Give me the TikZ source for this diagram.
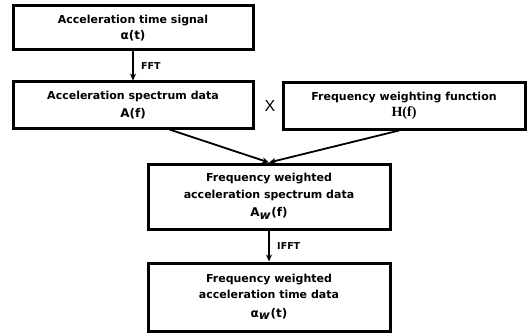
\documentclass[tikz,border=0pt]{standalone}
\usepackage{fontspec}
\setmainfont{DejaVu Sans}
\newfontfamily\serifb{Liberation Serif}
\newfontfamily\arial{Liberation Sans}
\usetikzlibrary{arrows.meta,calc}
\newcommand{\symline}{\fontsize{12}{14}\selectfont}
\begin{document}
\begin{tikzpicture}[x=1pt,y=1pt,
  box/.style={draw=black,line width=3pt,rectangle,align=center,inner sep=0pt,
    font=\bfseries\fontsize{11}{16.5}\selectfont},
  conn/.style={line width=1.8pt,-{Stealth[length=7pt,width=6pt]}},
  lbl/.style={font=\bfseries\fontsize{9.5}{12}\selectfont,anchor=west}]
\useasboundingbox (0,0) rectangle (532,-334);
\node[box,minimum width=240,minimum height=44] (b1) at (133,-28) {Acceleration time signal\\ {\symline α(t)}};
\node[box,minimum width=240,minimum height=46] (b2) at (133,-105) {Acceleration spectrum data\\[1pt] {\symline A(f)}};
\node[box,minimum width=242,minimum height=46] (b3) at (404,-106) {Frequency weighting function\\ {\serifb\bfseries\fontsize{14}{16}\selectfont H(f)}};
\node[box,minimum width=242,minimum height=65] (b4) at (269,-196.5) {Frequency weighted\\ acceleration spectrum data\\[2pt] {\symline A$_{\textbf{\textit{w}}}$(f)}};
\node[box,minimum width=242,minimum height=68] (b5) at (269,-297) {Frequency weighted\\ acceleration time data\\[2pt] {\symline α$_{\textbf{\textit{w}}}$(t)}};
\node[font=\arial\fontsize{16}{18}\selectfont] (x) at (270,-106) {X};
\draw[conn] (b1.south) -- (b2.north) node[midway,lbl,xshift=4pt] (fft) {FFT};
\draw[conn] (b4.south) -- (b5.north) node[midway,lbl,xshift=4pt] (ifft) {IFFT};
\coordinate (s2) at ($(b2.south west)!0.65!(b2.south east)$);
\coordinate (s3) at ($(b3.south west)!0.48!(b3.south east)$);
\draw[conn] (s2) -- (b4.north);
\draw[conn] (s3) -- (b4.north);
\end{tikzpicture}
\end{document}
